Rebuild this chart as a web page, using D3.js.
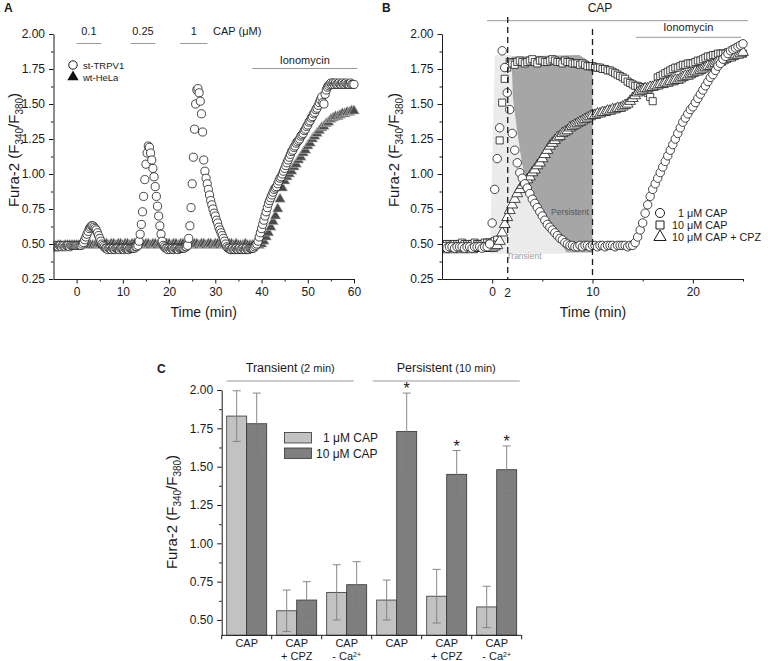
<!DOCTYPE html>
<html>
<head>
<meta charset="utf-8">
<script src="https://cdn.jsdelivr.net/npm/d3@7"></script>
<style>
  body { margin: 0; background: #fff; }
  svg { display: block; font-family: Arial, 'Liberation Sans', sans-serif; }
</style>
</head>
<body>
<svg id="fig" width="768" height="661"></svg>
<script>
// ---- panel A: st-TRPV1 (circles), sampled every 0.25 min, one row per 5 min
const A_STEP_TRPV1 = 0.25
const trpv1Rows = [
  [-5, [0.48, 0.48, 0.49, 0.48, 0.48, 0.49, 0.49, 0.48, 0.49, 0.49, 0.48, 0.49, 0.49, 0.49, 0.48, 0.49, 0.49, 0.49, 0.49, 0.49]],
  [0, [0.49, 0.49, 0.49, 0.49, 0.49, 0.50, 0.51, 0.53, 0.55, 0.57, 0.59, 0.61, 0.62, 0.63, 0.63, 0.62, 0.61, 0.60, 0.58, 0.56]],
  [5, [0.54, 0.52, 0.50, 0.49, 0.48, 0.47, 0.47, 0.46, 0.47, 0.47, 0.46, 0.47, 0.47, 0.46, 0.47, 0.47, 0.47, 0.46, 0.47, 0.47]],
  [10, [0.47, 0.46, 0.47, 0.47, 0.47, 0.46, 0.47, 0.47, 0.47, 0.47, 0.47, 0.48, 0.48, 0.49, 0.52, 0.57, 0.64, 0.73, 0.84, 0.96]],
  [15, [1.07, 1.15, 1.20, 1.19, 1.15, 1.10, 1.04, 0.98, 0.91, 0.84, 0.77, 0.70, 0.63, 0.57, 0.52, 0.49, 0.48, 0.47, 0.47, 0.46]],
  [20, [0.47, 0.46, 0.47, 0.47, 0.46, 0.47, 0.47, 0.47, 0.46, 0.47, 0.47, 0.47, 0.47, 0.47, 0.48, 0.48, 0.49, 0.54, 0.63, 0.76]],
  [25, [0.93, 1.12, 1.32, 1.50, 1.60, 1.61, 1.58, 1.52, 1.43, 1.30, 1.10, 1.02, 0.97, 0.93, 0.89, 0.85, 0.81, 0.78, 0.75, 0.72]],
  [30, [0.70, 0.67, 0.65, 0.62, 0.60, 0.58, 0.56, 0.54, 0.52, 0.50, 0.48, 0.47, 0.47, 0.46, 0.46, 0.47, 0.46, 0.46, 0.47, 0.46]],
  [35, [0.46, 0.47, 0.46, 0.46, 0.47, 0.46, 0.46, 0.47, 0.46, 0.46, 0.47, 0.47, 0.47, 0.47, 0.48, 0.49, 0.50, 0.52, 0.55, 0.58]],
  [40, [0.61, 0.64, 0.67, 0.70, 0.73, 0.76, 0.79, 0.81, 0.83, 0.85, 0.87, 0.89, 0.90, 0.91, 0.93, 0.95, 0.97, 0.98, 1.00, 1.02]],
  [45, [1.04, 1.06, 1.08, 1.10, 1.12, 1.14, 1.16, 1.17, 1.19, 1.20, 1.22, 1.23, 1.24, 1.25, 1.27, 1.28, 1.29, 1.31, 1.32, 1.34]],
  [50, [1.35, 1.37, 1.38, 1.40, 1.41, 1.43, 1.44, 1.46, 1.47, 1.49, 1.51, 1.53, 1.55, 1.51, 1.50, 1.57, 1.60, 1.62, 1.63, 1.64]],
  [55, [1.65, 1.64, 1.65, 1.64, 1.65, 1.64, 1.64, 1.65, 1.64, 1.64, 1.65, 1.64, 1.64, 1.65, 1.64, 1.64, 1.64, 1.65, 1.64, 1.64]],
  [60, [1.64]]
]

// ---- panel A: wt-HeLa (filled triangles), sampled every 0.5 min
const A_STEP_HELA = 0.5
const helaRows = [
  [-5, [0.48, 0.48, 0.49, 0.49, 0.48, 0.49, 0.49, 0.49, 0.49, 0.49]],
  [0, [0.49, 0.49, 0.50, 0.50, 0.50, 0.50, 0.49, 0.49, 0.49, 0.50]],
  [5, [0.50, 0.49, 0.50, 0.50, 0.49, 0.50, 0.50, 0.49, 0.50, 0.50]],
  [10, [0.49, 0.50, 0.50, 0.49, 0.50, 0.50, 0.49, 0.50, 0.50, 0.49]],
  [15, [0.50, 0.50, 0.49, 0.50, 0.50, 0.49, 0.50, 0.50, 0.49, 0.50]],
  [20, [0.50, 0.49, 0.50, 0.50, 0.49, 0.50, 0.50, 0.49, 0.50, 0.50]],
  [25, [0.49, 0.50, 0.50, 0.49, 0.50, 0.50, 0.49, 0.50, 0.50, 0.49]],
  [30, [0.50, 0.50, 0.49, 0.50, 0.50, 0.49, 0.50, 0.50, 0.49, 0.50]],
  [35, [0.49, 0.49, 0.49, 0.50, 0.49, 0.49, 0.49, 0.49, 0.49, 0.49]],
  [40, [0.50, 0.52, 0.55, 0.58, 0.62, 0.66, 0.70, 0.75, 0.82, 0.90]],
  [45, [0.95, 0.98, 1.00, 1.02, 1.05, 1.07, 1.10, 1.12, 1.15, 1.17]],
  [50, [1.20, 1.22, 1.25, 1.27, 1.29, 1.31, 1.33, 1.34, 1.36, 1.37]],
  [55, [1.39, 1.40, 1.41, 1.41, 1.42, 1.43, 1.43, 1.44, 1.44, 1.45]],
  [60, [1.45]]
]

const capPulses = [
  { label: '0.1', t0: 0, t1: 5.3 },
  { label: '0.25', t0: 11.7, t1: 17 },
  { label: '1', t0: 22.4, t1: 28.3 }
]
const ionoA = [38, 60.7]

// ---- panel B: three traces sampled every 0.25 min
const B_STEP = 0.25
const cap1Rows = [
  [-5, [0.48, 0.48, 0.47, 0.48, 0.48, 0.47, 0.48, 0.48, 0.48, 0.47, 0.48, 0.48, 0.47, 0.48, 0.48, 0.48, 0.47, 0.48, 0.48, 0.50]],
  [0, [0.65, 0.89, 1.11, 1.33, 1.88, 1.76, 1.58, 1.46, 1.29, 1.17, 1.08, 1.01, 0.97, 0.93, 0.90, 0.86, 0.82, 0.79, 0.76, 0.73]],
  [5, [0.70, 0.67, 0.64, 0.62, 0.60, 0.58, 0.56, 0.54, 0.53, 0.51, 0.50, 0.49, 0.49, 0.48, 0.48, 0.49, 0.48, 0.49, 0.49, 0.48]],
  [10, [0.49, 0.49, 0.48, 0.49, 0.49, 0.48, 0.49, 0.49, 0.49, 0.48, 0.49, 0.49, 0.49, 0.49, 0.48, 0.49, 0.49, 0.51, 0.55, 0.60]],
  [15, [0.65, 0.72, 0.78, 0.84, 0.89, 0.93, 0.97, 1.01, 1.05, 1.09, 1.13, 1.17, 1.21, 1.25, 1.29, 1.33, 1.37, 1.40, 1.43, 1.46]],
  [20, [1.48, 1.51, 1.54, 1.57, 1.60, 1.63, 1.66, 1.69, 1.71, 1.74, 1.77, 1.79, 1.82, 1.84, 1.86, 1.88, 1.89, 1.90, 1.91, 1.92]],
  [25, [1.93]]
]
const cap10Rows = [
  [-5, [0.50, 0.49, 0.50, 0.50, 0.49, 0.50, 0.50, 0.50, 0.51, 0.50, 0.50, 0.50, 0.50, 0.51, 0.50, 0.50, 0.50, 0.51, 0.51, 0.51]],
  [0, [0.51, 0.52, 0.53, 1.24, 1.51, 1.68, 1.76, 1.80, 1.79, 1.78, 1.80, 1.81, 1.80, 1.79, 1.80, 1.81, 1.82, 1.80, 1.79, 1.81]],
  [5, [1.81, 1.80, 1.80, 1.81, 1.82, 1.81, 1.80, 1.80, 1.79, 1.81, 1.80, 1.80, 1.79, 1.79, 1.79, 1.78, 1.79, 1.78, 1.77, 1.77]],
  [10, [1.77, 1.76, 1.76, 1.76, 1.75, 1.75, 1.74, 1.74, 1.73, 1.72, 1.71, 1.70, 1.69, 1.68, 1.66, 1.65, 1.64, 1.63, 1.63, 1.62]],
  [15, [1.62, 1.61, 1.58, 1.55, 1.52, 1.63, 1.69, 1.70, 1.71, 1.72, 1.73, 1.74, 1.75, 1.76, 1.76, 1.77, 1.78, 1.78, 1.79, 1.79]],
  [20, [1.79, 1.80, 1.81, 1.81, 1.82, 1.83, 1.84, 1.84, 1.85, 1.85, 1.86, 1.86, 1.86, 1.86, 1.87, 1.86, 1.86, 1.86, 1.86, 1.87]],
  [25, [1.86]]
]
const cpzRows = [
  [-5, [0.47, 0.46, 0.47, 0.47, 0.46, 0.47, 0.47, 0.47, 0.46, 0.47, 0.47, 0.47, 0.46, 0.47, 0.47, 0.47, 0.47, 0.47, 0.47, 0.47]],
  [0, [0.47, 0.48, 0.49, 0.52, 0.58, 0.64, 0.69, 0.74, 0.78, 0.82, 0.86, 0.89, 0.92, 0.94, 0.96, 0.98, 1.01, 1.03, 1.06, 1.08]],
  [5, [1.11, 1.14, 1.17, 1.20, 1.22, 1.24, 1.26, 1.27, 1.29, 1.30, 1.31, 1.33, 1.34, 1.35, 1.36, 1.37, 1.38, 1.39, 1.40, 1.41]],
  [10, [1.42, 1.42, 1.43, 1.43, 1.44, 1.44, 1.45, 1.45, 1.46, 1.46, 1.47, 1.47, 1.48, 1.49, 1.50, 1.52, 1.54, 1.56, 1.58, 1.59]],
  [15, [1.60, 1.61, 1.61, 1.62, 1.62, 1.63, 1.63, 1.64, 1.64, 1.65, 1.65, 1.66, 1.66, 1.67, 1.67, 1.68, 1.69, 1.70, 1.70, 1.71]],
  [20, [1.72, 1.73, 1.73, 1.74, 1.75, 1.76, 1.77, 1.77, 1.78, 1.79, 1.80, 1.80, 1.81, 1.82, 1.83, 1.83, 1.84, 1.85, 1.85, 1.86]],
  [25, [1.87]]
]

// shaded windows in B (time, ratio)
const transientArea = [[-0.23, 0.43], [0.27, 1.85], [1.93, 1.85], [2.06, 1.55], [2.46, 1.32], [2.96, 1.08], [3.55, 0.91], [7.4, 0.43]]
const persistentArea = [[1.93, 1.84], [8.7, 1.85], [10, 1.79], [10, 0.44], [7.4, 0.44], [3.55, 0.91], [2.96, 1.08], [2.46, 1.32], [2.06, 1.55]]
const markTimes = [1.55, 10]
const ionoB = [14.3, 24.8]
const capB = [-0.5, 25.5]

// ---- panel C
const groupLine1 = ['CAP', 'CAP', 'CAP', 'CAP', 'CAP', 'CAP']
const groupLine2 = ['', '+ CPZ', '- Ca', '', '+ CPZ', '- Ca']
const cap1Mean = [1.83, 0.56, 0.68, 0.63, 0.655, 0.585]
const cap1Err = [0.165, 0.135, 0.18, 0.13, 0.175, 0.135]
const cap10Mean = [1.78, 0.63, 0.73, 1.73, 1.45, 1.48]
const cap10Err = [0.2, 0.12, 0.15, 0.25, 0.155, 0.155]
const cap10Star = [false, false, false, true, true, true]

const yTicks = [0.25, 0.5, 0.75, 1.0, 1.25, 1.5, 1.75, 2.0]
const yMinor = [0.375, 0.625, 0.875, 1.125, 1.375, 1.625, 1.875]
const yTicksC = [0.5, 0.75, 1.0, 1.25, 1.5, 1.75, 2.0]
const yMinorC = [0.625, 0.875, 1.125, 1.375, 1.625, 1.875]
const xTicksA = [0, 10, 20, 30, 40, 50, 60]
const xMinorA = [5, 15, 25, 35, 45, 55]
const xTicksB = [0, 10, 20]
const xMinorB = [5, 15, 25]

const FONT = 'Arial, "Liberation Sans", sans-serif'
const INK = '#1a1a1a'
const fig = d3.select('#fig')
const fmt2 = d3.format('.2f')

function expand (rows, step) {
  return rows.flatMap(([t0, vals]) => vals.map((v, i) => ({ t: t0 + i * step, v })))
}

function styleAxis (sel) {
  sel.attr('font-family', FONT).attr('font-size', 12)
  sel.selectAll('path.domain').attr('stroke', INK)
  sel.selectAll('.tick line').attr('stroke', INK)
  sel.selectAll('.tick text').attr('fill', INK)
}

function axisPair (axisFn, scale, majors, minors, fmt, transform) {
  const minor = fig.append('g').attr('transform', transform)
    .call(axisFn(scale).tickValues(minors).tickSize(2.5).tickSizeOuter(0).tickFormat(''))
  minor.select('.domain').remove()
  const major = fig.append('g').attr('transform', transform)
    .call(axisFn(scale).tickValues(majors).tickSize(4.5).tickPadding(4).tickSizeOuter(0).tickFormat(fmt))
  styleAxis(minor)
  styleAxis(major)
  return major
}

function yLabel (x, y) {
  const t = fig.append('text')
    .attr('transform', `translate(${x},${y}) rotate(-90)`)
    .attr('text-anchor', 'middle')
    .attr('font-size', 15)
    .attr('fill', INK)
  t.append('tspan').text('Fura-2 (F')
  t.append('tspan').attr('font-size', 10).attr('dy', 4).text('340')
  t.append('tspan').attr('dy', -4).text('/F')
  t.append('tspan').attr('font-size', 10).attr('dy', 4).text('380')
  t.append('tspan').attr('dy', -4).text(')')
}

function label (x, y, text, size, opts = {}) {
  return fig.append('text')
    .attr('x', x).attr('y', y)
    .attr('font-size', size)
    .attr('text-anchor', opts.anchor || 'middle')
    .attr('font-weight', opts.weight || null)
    .attr('fill', opts.fill || INK)
    .text(text)
}

function hline (x1, x2, y, color = '#999') {
  fig.append('line')
    .attr('x1', x1).attr('x2', x2).attr('y1', y).attr('y2', y)
    .attr('stroke', color).attr('stroke-width', 1)
}

function drawSeries (g, x, y, pts, type, size, fill, stroke, sw) {
  g.append('g').selectAll('path').data(pts).join('path')
    .attr('d', d3.symbol().type(type).size(size))
    .attr('transform', d => `translate(${x(d.t)},${y(d.v)})`)
    .attr('fill', fill)
    .attr('stroke', stroke)
    .attr('stroke-width', sw)
}

function clipFrom (id, x0) {
  fig.append('clipPath').attr('id', id)
    .append('rect').attr('x', x0).attr('y', 0).attr('width', 1000).attr('height', 661)
}

// ================= Panel A =================
const xA = d3.scaleLinear().domain([-5, 60]).range([53.5, 354])
const yA = d3.scaleLinear().domain([0.25, 2]).range([279, 34])

label(4, 12, 'A', 12, { anchor: 'start', weight: 'bold' })

capPulses.forEach(p => {
  label((xA(p.t0) + xA(p.t1)) / 2, 35, p.label, 11)
  hline(xA(p.t0), xA(p.t1), 43.5)
})
label(213, 35, 'CAP (\u03bcM)', 11, { anchor: 'start' })
label((xA(ionoA[0]) + xA(ionoA[1])) / 2, 64, 'Ionomycin', 11)
hline(xA(ionoA[0]), xA(ionoA[1]), 68.5)

clipFrom('clipA', xA(-5))
const gA = fig.append('g').attr('clip-path', 'url(#clipA)')
drawSeries(gA, xA, yA, expand(helaRows, A_STEP_HELA), d3.symbolTriangle, 50, '#4a4a4a', '#cfcfcf', 0.6)
drawSeries(gA, xA, yA, expand(trpv1Rows, A_STEP_TRPV1), d3.symbolCircle, 52, '#fff', INK, 0.8)

axisPair(d3.axisLeft, yA, yTicks, yMinor, fmt2, `translate(${xA(-5)},0)`)
axisPair(d3.axisBottom, xA, xTicksA, xMinorA, d3.format('d'), `translate(0,${yA(0.25)})`)

// legend A
fig.append('path').attr('d', d3.symbol().type(d3.symbolCircle).size(56)())
  .attr('transform', 'translate(73,65)').attr('fill', '#fff').attr('stroke', INK)
fig.append('path').attr('d', d3.symbol().type(d3.symbolTriangle).size(56)())
  .attr('transform', 'translate(73,77)').attr('fill', '#111')
label(83, 68.5, 'st-TRPV1', 9.5, { anchor: 'start' })
label(83, 80.5, 'wt-HeLa', 9.5, { anchor: 'start' })

label((xA(-5) + xA(60)) / 2, 317, 'Time (min)', 14)
yLabel(19, 150)

// ================= Panel B =================
const xB = d3.scaleLinear().domain([-5, 25]).range([442, 743])
const yB = d3.scaleLinear().domain([0.25, 2]).range([279, 34])

label(382, 12, 'B', 12, { anchor: 'start', weight: 'bold' })
label(600, 12, 'CAP', 12)
hline(xB(capB[0]), xB(capB[1]), 20.7)
label((xB(ionoB[0]) + xB(ionoB[1])) / 2, 31, 'Ionomycin', 11)
hline(xB(ionoB[0]), xB(ionoB[1]), 37.3)

const area = d3.line().x(d => xB(d[0])).y(d => yB(d[1]))
fig.append('path').attr('d', area(transientArea) + 'Z').attr('fill', '#ebebeb')
fig.append('path').attr('d', area(persistentArea) + 'Z').attr('fill', '#a6a6a6')
label(570, 215, 'Persistent', 8.5, { fill: '#555' })
label(524, 259, 'Transient', 8.5, { fill: '#9a9a9a' })

clipFrom('clipB', xB(-5))
const gB = fig.append('g').attr('clip-path', 'url(#clipB)')
drawSeries(gB, xB, yB, expand(cap10Rows, B_STEP), d3.symbolSquare, 50, '#fff', INK, 0.8)
drawSeries(gB, xB, yB, expand(cpzRows, B_STEP), d3.symbolTriangle, 52, '#fff', INK, 0.8)
drawSeries(gB, xB, yB, expand(cap1Rows, B_STEP), d3.symbolCircle, 56, '#fff', INK, 0.8)

markTimes.forEach((t, i) => {
  fig.append('line')
    .attr('x1', xB(t)).attr('x2', xB(t))
    .attr('y1', i === 0 ? 17 : 29).attr('y2', yB(0.25))
    .attr('stroke', INK).attr('stroke-width', 1.3).attr('stroke-dasharray', '6,4')
})

axisPair(d3.axisLeft, yB, yTicks, yMinor, fmt2, `translate(${xB(-5)},0)`)
axisPair(d3.axisBottom, xB, xTicksB, xMinorB, d3.format('d'), `translate(0,${yB(0.25)})`)
label(xB(markTimes[0]), 297, '2', 12)

// legend B
const legB = [
  { type: d3.symbolCircle, text: '1 \u03bcM CAP', dx: 6 },
  { type: d3.symbolSquare, text: '10 \u03bcM CAP', dx: 0 },
  { type: d3.symbolTriangle, text: '10 \u03bcM CAP + CPZ', dx: 0 }
]
legB.forEach((d, i) => {
  const yy = 213 + i * 12
  fig.append('path').attr('d', d3.symbol().type(d.type).size(64)())
    .attr('transform', `translate(660,${yy})`).attr('fill', '#fff').attr('stroke', INK)
  label(672 + d.dx, yy + 4, d.text, 10.8, { anchor: 'start' })
})

label(593, 317, 'Time (min)', 14)
yLabel(399, 150)

// ================= Panel C =================
const yC = d3.scaleLinear().domain([0.4, 2.0]).range([635.3, 390])
const xC = d3.scaleBand().domain(d3.range(groupLine1.length)).range([221.7, 521.7])
const xSub = d3.scaleBand().domain(['c1', 'c10']).range([0, xC.bandwidth()]).paddingOuter(0.25)

label(157, 373, 'C', 12, { anchor: 'start', weight: 'bold' })

const hdr = [
  { main: 'Transient', sub: ' (2 min)', x1: xC(0) + 5, x2: xC(2) + 32 },
  { main: 'Persistent', sub: ' (10 min)', x1: xC(3) + 1, x2: xC(5) + 48 }
]
hdr.forEach(h => {
  const t = label((h.x1 + h.x2) / 2, 372, h.main, 12.5)
  t.append('tspan').attr('font-size', 11).text(h.sub)
  hline(h.x1, h.x2, 381)
})

const barData = groupLine1.map((_, i) => [
  { g: i, k: 'c1', m: cap1Mean[i], e: cap1Err[i], star: false },
  { g: i, k: 'c10', m: cap10Mean[i], e: cap10Err[i], star: cap10Star[i] }
]).flat()
const barFill = { c1: '#c2c2c2', c10: '#7f7f7f' }

const gC = fig.append('g')
gC.selectAll('rect.bar').data(barData).join('rect')
  .attr('class', 'bar')
  .attr('x', d => xC(d.g) + xSub(d.k))
  .attr('width', xSub.bandwidth())
  .attr('y', d => yC(d.m))
  .attr('height', d => yC(0.4) - yC(d.m))
  .attr('fill', d => barFill[d.k])
  .attr('stroke', '#333').attr('stroke-width', 0.8)

const cx = d => xC(d.g) + xSub(d.k) + xSub.bandwidth() / 2
const errG = gC.selectAll('g.err').data(barData).join('g').attr('class', 'err')
  .attr('stroke', '#7a7a7a').attr('stroke-width', 0.9)
errG.append('line').attr('x1', cx).attr('x2', cx).attr('y1', d => yC(d.m + d.e)).attr('y2', d => yC(d.m - d.e))
errG.append('line').attr('x1', d => cx(d) - 4).attr('x2', d => cx(d) + 4).attr('y1', d => yC(d.m + d.e)).attr('y2', d => yC(d.m + d.e))
errG.append('line').attr('x1', d => cx(d) - 4).attr('x2', d => cx(d) + 4).attr('y1', d => yC(d.m - d.e)).attr('y2', d => yC(d.m - d.e))

gC.selectAll('text.star').data(barData.filter(d => d.star)).join('text')
  .attr('class', 'star')
  .attr('x', cx).attr('y', d => yC(d.m + d.e) + 1)
  .attr('text-anchor', 'middle').attr('font-size', 16).attr('fill', INK)
  .text('*')

axisPair(d3.axisLeft, yC, yTicksC, yMinorC, fmt2, `translate(${xC(0)},0)`)
// x axis: baseline with ticks at group boundaries
fig.append('line').attr('x1', xC(0)).attr('x2', xC(5) + xC.bandwidth())
  .attr('y1', yC(0.4)).attr('y2', yC(0.4)).attr('stroke', INK)
fig.selectAll('line.gtick').data(d3.range(groupLine1.length + 1)).join('line')
  .attr('class', 'gtick')
  .attr('x1', i => xC(0) + i * xC.step()).attr('x2', i => xC(0) + i * xC.step())
  .attr('y1', yC(0.4)).attr('y2', yC(0.4) + 4).attr('stroke', INK)

groupLine1.forEach((l1, i) => {
  const mx = xC(i) + xC.bandwidth() / 2
  label(mx, 647, l1, 11)
  if (groupLine2[i]) {
    const t = label(mx, 660, groupLine2[i], 11)
    if (groupLine2[i].includes('Ca')) t.append('tspan').attr('font-size', 7).attr('dy', -3.5).text('2+')
  }
})

// legend C
const legC = [
  { k: 'c1', text: '1 \u03bcM CAP', dx: 7 },
  { k: 'c10', text: '10 \u03bcM CAP', dx: 0 }
]
legC.forEach((d, i) => {
  const yy = 432.5 + i * 15.5
  fig.append('rect').attr('x', 284.5).attr('y', yy).attr('width', 27).attr('height', 10.5)
    .attr('fill', barFill[d.k]).attr('stroke', '#333').attr('stroke-width', 0.8)
  label(316 + d.dx, yy + 9.5, d.text, 12, { anchor: 'start' })
})

yLabel(177, 512)
</script>
</body>
</html>
